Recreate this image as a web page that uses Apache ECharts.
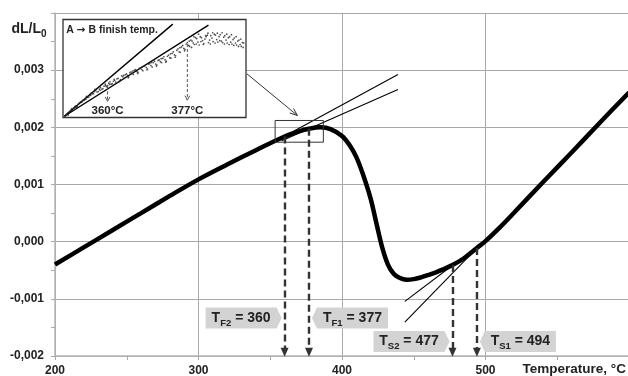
<!DOCTYPE html>
<html><head><meta charset="utf-8">
<script src="https://cdn.jsdelivr.net/npm/echarts@6/dist/echarts.min.js"></script>
<style>html,body{margin:0;padding:0;background:#fff}#c{width:628px;height:376px}</style>
</head><body><div id="c"></div>
<script>
// ---- data (dL/L0 values in units of 1e-3) ----
const temps = [200,220,240,260,280,300,320,340,360,370,377,385,392,400,405,410,415,420,424,428,432,436,440,445,450,455,460,465,470,477,485,494,500,510,520,540,560,580,600];
const dlMilli = [-0.40,-0.10,0.20,0.50,0.80,1.09,1.35,1.60,1.84,1.93,1.975,2.00,1.97,1.85,1.70,1.48,1.15,0.75,0.32,-0.10,-0.40,-0.56,-0.63,-0.665,-0.655,-0.625,-0.585,-0.54,-0.49,-0.41,-0.29,-0.11,0.01,0.25,0.51,1.04,1.56,2.09,2.61];
const tangentF2 = [[356,1.79],[439,2.925]];
const tangentF1 = [[358,1.765],[439,2.66]];
const tangentS2 = [[443.8,-1.044],[478,-0.395]];
const tangentS1 = [[443.8,-1.406],[494.5,-0.10]];
const zoomBoxT = [353.4, 387];
const zoomBoxV = [1.74, 2.12];
const markNames = ['F2','F1','S2','S1'];
const markTemps = [360, 377, 477, 494];
const xTickLabels = [200,300,400,500];
// inset (zoomed) data
const insetTangent1 = [[350.8,1.705],[373.9,2.081]];
const insetTangent2 = [[350.8,1.705],[381.5,2.077]];
const insetMarks = [360, 377];
const insetDots = [[351.0,1.706],[351.5,1.718],[352.0,1.726],[352.5,1.729],[353.0,1.745],[353.5,1.746],[354.0,1.760],[354.5,1.762],[355.0,1.770],[355.5,1.786],[356.0,1.784],[356.5,1.800],[357.0,1.797],[357.5,1.812],[358.0,1.806],[358.5,1.822],[359.0,1.818],[359.5,1.836],[360.0,1.830],[360.5,1.846],[361.0,1.838],[361.5,1.852],[362.0,1.858],[362.5,1.849],[363.0,1.870],[363.5,1.860],[364.0,1.878],[364.5,1.866],[365.0,1.886],[365.5,1.876],[366.0,1.896],[366.5,1.884],[367.0,1.903],[367.5,1.891],[368.0,1.912],[368.5,1.898],[369.0,1.920],[369.5,1.906],[370.0,1.930],[370.5,1.914],[371.0,1.935],[371.5,1.924],[372.0,1.948],[372.5,1.930],[373.0,1.955],[373.5,1.942],[374.0,1.968],[374.5,1.952],[375.0,1.980],[375.5,1.966],[376.0,1.994],[376.5,1.978],[377.0,2.006],[377.5,1.990],[378.0,2.012],[378.5,1.998],[379.0,2.022],[379.5,1.996],[380.0,2.026],[380.5,2.002],[381.0,2.030],[381.5,2.006],[382.0,2.034],[382.5,2.010],[383.0,2.036],[383.5,2.008],[384.0,2.038],[384.5,2.006],[385.0,2.034],[385.5,2.004],[386.0,2.030],[386.5,2.000],[387.0,2.024],[387.5,1.996],[388.0,2.016],[388.5,1.990],[389.0,2.004],
[351.25,1.714],[351.75,1.722],[352.25,1.733],[352.75,1.739],[353.25,1.748],[353.75,1.755],[354.25,1.764],[354.75,1.770],[355.25,1.778],[355.75,1.782],[356.25,1.795],[356.75,1.796],[357.25,1.806],[357.75,1.804],[358.25,1.816],[358.75,1.815],[359.25,1.828],[359.75,1.826],[360.25,1.840],[360.75,1.836],[361.25,1.848],[361.75,1.845],[362.25,1.860],[362.75,1.855],[363.25,1.866],[363.75,1.874],[364.25,1.872],[364.75,1.883],[365.25,1.880],[365.75,1.893],[366.25,1.888],[366.75,1.901],[367.25,1.896],[367.75,1.909],[368.25,1.904],[368.75,1.918],[369.25,1.912],[369.75,1.924],[370.25,1.918],[370.75,1.933],[371.25,1.928],[371.75,1.941],[372.25,1.936],[372.75,1.950],[373.25,1.944],[373.75,1.962],[374.25,1.956],[374.75,1.974],[375.25,1.968],[375.75,1.988],[376.25,1.982],[376.75,2.000],[377.25,1.994],[377.75,2.016],[378.25,2.004],[378.75,2.026],[379.25,2.008],[379.75,2.030],[380.25,2.014],[380.75,2.020],[381.25,2.036],[381.75,2.016],[382.25,2.024],[382.75,2.040],[383.25,2.018],[383.75,2.030],[384.25,2.012],[384.75,2.028],[385.25,2.016],[385.75,2.026],[386.25,2.008],[386.75,2.018],[387.25,2.004],[387.75,2.012],[388.25,1.998],[388.75,2.006],
[351.6,1.710],[352.4,1.736],[353.4,1.742],[354.6,1.768],[355.4,1.774],[356.4,1.790],[357.3,1.815],[358.4,1.811],[359.6,1.831],[360.4,1.835],[361.4,1.856],[362.4,1.846],[363.4,1.872],[364.4,1.862],[365.4,1.890],[366.4,1.880],[367.4,1.908],[368.4,1.895],[369.4,1.925],[370.4,1.910],[371.4,1.940],[372.4,1.926],[373.4,1.960],[374.4,1.946],[375.4,1.985],[376.4,1.972],[377.4,2.012],[377.9,1.986],[378.4,2.030],[378.9,2.000],[379.4,2.040],[379.9,2.010],[380.4,1.998],[380.9,2.034],[381.4,2.044],[381.9,2.000],[382.4,2.046],[382.9,2.004],[383.4,2.044],[383.9,2.014],[384.4,2.046],[384.9,2.000],[385.4,2.040],[385.9,1.998],[386.4,2.038],[386.9,1.994],[387.4,2.030],[387.9,1.990],[388.4,2.020],[388.9,1.986]];

// ---- chart ----
const FONT = 'Liberation Sans, Arial, sans-serif';
const chart = echarts.init(document.getElementById('c'), null, {renderer:'canvas'});
const valueAt = t => dlMilli[temps.indexOf(t)];
const arrowBottom = -1.935;

const axisLineStyle = {color:'#b4b4b4', width:1.5};
const option = {
  animation:false,
  backgroundColor:'#fff',
  grid:[
    {left:55, right:-1, top:13, bottom:20, show:false, containLabel:false, outerBoundsMode:'none'},
    {left:63, top:19.5, width:183, height:98, show:true, backgroundColor:'#fff', borderColor:'#333', borderWidth:1.3, z:3, containLabel:false, outerBoundsMode:'none'}
  ],
  xAxis:[
    {type:'value', gridIndex:0, min:200, max:600, interval:100,
     axisLine:{show:true, onZero:false, lineStyle:axisLineStyle},
     axisTick:{show:true, inside:false, length:4, lineStyle:{color:'#aaa'}},
     minorTick:{show:true, splitNumber:2, length:4, lineStyle:{color:'#aaa'}},
     splitLine:{show:true, lineStyle:{color:'#a8a8a8', width:1}},
     axisLabel:{show:true, showMaxLabel:false, margin:9, fontFamily:FONT, fontWeight:'bold', fontSize:12, color:'#222',
       formatter:v => xTickLabels.includes(v) ? String(v) : ''}},
    {type:'value', gridIndex:1, min:350.5, max:389.5, show:false}
  ],
  yAxis:[
    {type:'value', gridIndex:0, min:-2, max:4, interval:1,
     axisLine:{show:true, onZero:false, lineStyle:axisLineStyle},
     axisTick:{show:true, inside:false, length:4, lineStyle:{color:'#aaa'}},
     minorTick:{show:true, splitNumber:2, length:4, lineStyle:{color:'#aaa'}},
     splitLine:{show:true, lineStyle:{color:'#a8a8a8', width:1}},
     axisLabel:{show:true, showMaxLabel:false, margin:11, fontFamily:FONT, fontWeight:'bold', fontSize:12, color:'#222',
       formatter:v => (v/1000).toFixed(3).replace('.', ',')}},
    {type:'value', gridIndex:1, min:1.70, max:2.10, show:false}
  ],
  series:[
    {type:'line', xAxisIndex:0, yAxisIndex:0, data:temps.map((t,i)=>[t,dlMilli[i]]), smooth:0.35, showSymbol:false,
     lineStyle:{color:'#000', width:4.5}, z:4,
     markLine:{silent:true, symbol:['none','triangle'], symbolSize:[8,9], animation:false,
       lineStyle:{type:[7,4], width:2.4, color:'#333'}, itemStyle:{color:'#333'}, label:{show:false}, emphasis:{disabled:true},
       data: markTemps.map(t => [{coord:[t, valueAt(t)]},{coord:[t, arrowBottom]}])}},
    ...[tangentF2, tangentF1, tangentS2, tangentS1].map(d => ({type:'line', xAxisIndex:0, yAxisIndex:0, data:d, showSymbol:false, symbol:'none',
       lineStyle:{color:'#000', width:1.1}, z:3})),
    {type:'line', xAxisIndex:0, yAxisIndex:0, showSymbol:false, symbol:'none', lineStyle:{color:'#333', width:1}, z:5,
     data:[[zoomBoxT[0],zoomBoxV[0]],[zoomBoxT[1],zoomBoxV[0]],[zoomBoxT[1],zoomBoxV[1]],[zoomBoxT[0],zoomBoxV[1]],[zoomBoxT[0],zoomBoxV[0]]]},
    ...[insetTangent1, insetTangent2].map(d => ({type:'line', xAxisIndex:1, yAxisIndex:1, data:d, showSymbol:false, symbol:'none',
       lineStyle:{color:'#000', width:1.4}, z:6})),
    {type:'scatter', xAxisIndex:1, yAxisIndex:1, data:insetDots, symbolSize:1.7, itemStyle:{color:'#222'}, z:6}
  ]
};
chart.setOption(option);

// ---- annotations positioned through the axes ----
const P = (t,v,g) => chart.convertToPixel({gridIndex:g||0}, [t,v]);
const G = [];
function arrowHead(tip, from, len, ang){
  const dx=tip[0]-from[0], dy=tip[1]-from[1], L=Math.hypot(dx,dy);
  const ux=dx/L, uy=dy/L, pts=[];
  for (const s of [-1,1]) {
    const c=Math.cos(s*ang), sn=Math.sin(s*ang);
    pts.push([tip[0]-len*(ux*c-uy*sn), tip[1]-len*(ux*sn+uy*c)]);
  }
  return [pts[0], tip, pts[1]];
}
// arrow from inset to zoom box
const aFrom = P(333.7, 2.937), aTip = P(368.9, 2.208);
G.push({type:'line', z:10, shape:{x1:aFrom[0],y1:aFrom[1],x2:aTip[0],y2:aTip[1]}, style:{stroke:'#333', lineWidth:1}});
G.push({type:'polyline', z:10, shape:{points:arrowHead(aTip,aFrom,8,0.38)}, style:{stroke:'#333', lineWidth:1, fill:null}});

// callouts
const rowV = [-1.335, -1.335, -1.748, -1.748];
const pointRight = [true, false, true, false];
const CW = 76, TIP = 5, CH = 21;
const richStyle = {
  a:{fontFamily:FONT, fontWeight:'bold', fontSize:14, lineHeight:20, fill:'#222'},
  b:{fontFamily:FONT, fontWeight:'bold', fontSize:9.5, lineHeight:10, verticalAlign:'bottom', fill:'#222'}
};
markTemps.forEach((t,i) => {
  const ax = P(t, 0)[0], yc = P(t, rowV[i])[1];
  const y0 = yc - CH/2, y1 = yc + CH/2;
  let pts, cx;
  if (pointRight[i]) {
    const tip = ax - 3;
    pts = [[tip-CW,y0],[tip-TIP,y0],[tip,yc],[tip-TIP,y1],[tip-CW,y1]];
    cx = tip - CW + (CW-TIP)/2;
  } else {
    const tip = ax + 3;
    pts = [[tip,yc],[tip+TIP,y0],[tip+CW,y0],[tip+CW,y1],[tip+TIP,y1]];
    cx = tip + TIP + (CW-TIP)/2;
  }
  G.push({type:'polygon', z:11, shape:{points:pts}, style:{fill:'#d3d3d3'}});
  G.push({type:'text', z:12, x:cx, y:yc, style:{text:'{a|T}{b|'+markNames[i]+'}{a| = '+t+'}', rich:richStyle, align:'center', verticalAlign:'middle'}});
});

// inset annotations
const insetTop = [1.827, 2.000], insetTipV = [1.766, 1.771];
insetMarks.forEach((t,i) => {
  const a = P(t, insetTop[i], 1), b = P(t, insetTipV[i], 1);
  G.push({type:'line', z:12, shape:{x1:a[0],y1:a[1],x2:b[0],y2:b[1]}, style:{stroke:'#555', lineWidth:1, lineDash:[3,2]}});
  G.push({type:'polyline', z:12, shape:{points:arrowHead(b,a,5,0.5)}, style:{stroke:'#555', lineWidth:1, fill:null}});
  const lp = P(t, 1.728, 1);
  G.push({type:'text', z:12, x:lp[0], y:lp[1], style:{text:t+'°C', fontFamily:FONT, fontWeight:'bold', fontSize:11.5, fill:'#222', align:'center', verticalAlign:'middle'}});
});
const tp = P(351.2, 2.056, 1);
G.push({type:'text', z:12, x:tp[0], y:tp[1], style:{text:'{a|A }{r|→}{a| B finish temp.}', rich:{
  a:{fontFamily:FONT, fontWeight:'bold', fontSize:10.5, fill:'#222'},
  r:{fontFamily:'DejaVu Sans', fontWeight:'bold', fontSize:10.5, fill:'#222'}}, align:'left', verticalAlign:'middle'}});

// axis titles
G.push({type:'text', z:12, x:11.5, y:29, style:{text:'{a|dL/L}{b|0}', rich:{
  a:{fontFamily:FONT, fontWeight:'bold', fontSize:14, lineHeight:20, fill:'#222'},
  b:{fontFamily:FONT, fontWeight:'bold', fontSize:10, lineHeight:10, verticalAlign:'bottom', fill:'#222'}}, align:'left', verticalAlign:'middle'}});
G.push({type:'text', z:12, x:626, y:369.5, style:{text:'Temperature, °C', fontFamily:FONT, fontWeight:'bold', fontSize:13.5, fill:'#222', align:'right', verticalAlign:'middle'}});

chart.setOption({graphic:G});
</script></body></html>
